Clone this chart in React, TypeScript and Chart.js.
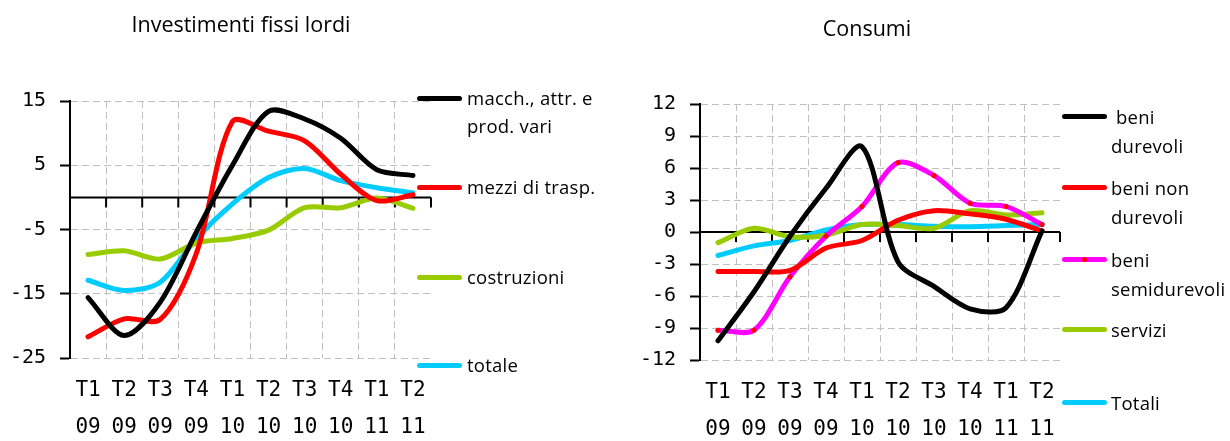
import React, { useEffect, useRef } from 'react';
import { Chart, registerables } from 'chart.js';

Chart.register(...registerables);

// ---------- data ----------
const quarters = ['T1', 'T2', 'T3', 'T4', 'T1', 'T2', 'T3', 'T4', 'T1', 'T2'];
const years = ['09', '09', '09', '09', '10', '10', '10', '10', '11', '11'];

// Investimenti fissi lordi
const invMacchinari = [-15.6, -21.5, -16.3, -5.4, 5.0, 13.4, 12.2, 9.2, 4.3, 3.4];
const invMezziTrasp = [-21.7, -18.9, -19.0, -8.7, 11.8, 10.3, 8.8, 3.6, -0.5, 0.4];
const invCostruzioni = [-8.9, -8.3, -9.6, -7.1, -6.4, -5.1, -1.6, -1.6, -0.1, -1.7];
const invTotale = [-12.9, -14.5, -13.2, -6.4, -1.0, 3.1, 4.5, 2.6, 1.5, 0.7];
const invLabels = [['macch., attr. e', 'prod. vari'], ['mezzi di trasp.'], ['costruzioni'], ['totale']];
const invColors = ['#000000', '#ff0000', '#99cc00', '#00ccff'];
const invMin = -25, invMax = 15, invStep = 10;

// Consumi
const conDurevoli = [-10.2, -5.6, -0.4, 4.1, 8.0, -2.8, -5.1, -7.2, -7.1, 0.1];
const conNonDurevoli = [-3.7, -3.7, -3.6, -1.5, -0.8, 1.1, 2.0, 1.7, 1.2, 0.1];
const conSemidurevoli = [-9.2, -9.2, -4.2, -0.4, 2.4, 6.5, 5.3, 2.7, 2.4, 0.7];
const conServizi = [-1.0, 0.35, -0.45, -0.3, 0.7, 0.6, 0.35, 2.0, 1.6, 1.8];
const conTotali = [-2.2, -1.3, -0.8, 0.2, 0.7, 0.7, 0.55, 0.5, 0.6, 0.7];
const conLabels = [[' beni', 'durevoli'], ['beni non', 'durevoli'], ['beni', 'semidurevoli'], ['servizi'], ['Totali']];
const conColors = ['#000000', '#ff0000', '#ff00ff', '#99cc00', '#00ccff'];
const conMin = -12, conMax = 12, conStep = 3;

// ---------- styling ----------
const GRID = '#c0c0c0';
const MONO = '"DejaVu Sans Mono", monospace';
const SANS = '"Open Sans", "DejaVu Sans", sans-serif';

const zeroAxisPlugin = {
  id: 'zeroAxis',
  beforeDatasetsDraw(chart: any) {
    const { ctx, chartArea, scales } = chart;
    const y = scales.y.getPixelForValue(0);
    const xs = scales.x;
    const n = xs.getLabels().length;
    ctx.save();
    ctx.strokeStyle = '#000';
    ctx.lineWidth = 2;
    ctx.beginPath();
    ctx.moveTo(chartArea.left, y);
    ctx.lineTo(chartArea.right, y);
    for (let i = 0; i < n; i++) {
      const x = xs.getPixelForValue(i + 0.5);
      ctx.moveTo(x, y);
      ctx.lineTo(x, y + 10);
    }
    ctx.stroke();
    ctx.restore();
  },
};

function buildConfig(opts: {
  series: number[][];
  colors: string[];
  names: string[][];
  min: number;
  max: number;
  step: number;
  yWidth: number;
  xHeight: number;
  padTop: number;
  padRight: number;
  markerIndex?: number;
}) {
  const labels = quarters.map((q, i) => [q, years[i]]);
  const n = labels.length;
  return {
    type: 'line',
    data: {
      labels,
      datasets: opts.series.map((data, i) => ({
        label: opts.names[i].join(' ').trim(),
        data,
        borderColor: opts.colors[i],
        backgroundColor: opts.colors[i],
        borderWidth: 5,
        tension: 0.3,
        fill: false,
        borderCapStyle: 'round',
        borderJoinStyle: 'round',
        pointRadius: i === opts.markerIndex ? 2.5 : 0,
        pointBackgroundColor: '#ff0000',
        pointBorderWidth: 0,
      })),
    },
    options: {
      responsive: false,
      animation: false,
      layout: { padding: { top: opts.padTop, right: opts.padRight, left: 0, bottom: 0 } },
      plugins: { legend: { display: false }, tooltip: { enabled: false }, title: { display: false } },
      scales: {
        x: {
          type: 'category',
          offset: true,
          grid: {
            offset: true,
            drawTicks: false,
            color: (c: any) => (c.index === undefined || c.index === 0 || c.index >= n ? 'rgba(0,0,0,0)' : GRID),
            lineWidth: 1,
          },
          border: { display: false, dash: [7, 4] },
          ticks: {
            color: '#000',
            font: { family: MONO, size: 21, lineHeight: '37px' },
            padding: 14,
            maxRotation: 0,
            autoSkip: false,
          },
          afterFit: (s: any) => {
            s.height = opts.xHeight;
          },
        },
        y: {
          min: opts.min,
          max: opts.max,
          grid: {
            drawTicks: true,
            tickLength: 10,
            tickColor: '#000',
            tickWidth: 2,
            tickBorderDash: [],
            color: (c: any) => (c.tick && c.tick.value === 0 ? 'rgba(0,0,0,0)' : GRID),
            lineWidth: 1,
          },
          border: { display: true, color: '#000', width: 2, dash: [7, 4] },
          ticks: {
            stepSize: opts.step,
            color: '#000',
            font: { family: MONO, size: 20 },
            padding: 14,
          },
          afterFit: (s: any) => {
            s.width = opts.yWidth;
          },
        },
      },
    },
    plugins: [zeroAxisPlugin],
  } as any;
}

function ChartCanvas({ config, left }: { config: any; left: number }) {
  const ref = useRef<HTMLCanvasElement | null>(null);
  useEffect(() => {
    if (!ref.current) return;
    const chart = new Chart(ref.current, config);
    return () => chart.destroy();
  }, [config]);
  return (
    <canvas
      ref={ref}
      width={615}
      height={441}
      style={{ position: 'absolute', left, top: 0, width: 615, height: 441 }}
    />
  );
}

function Legend({
  names,
  colors,
  ys,
  lineX,
  textX,
  lineHeight,
  markerIndex,
}: {
  names: string[][];
  colors: string[];
  ys: number[];
  lineX: number;
  textX: number;
  lineHeight: number;
  markerIndex?: number;
}) {
  return (
    <>
      {names.map((lines, i) => (
        <React.Fragment key={i}>
          <div
            style={{
              position: 'absolute',
              left: lineX,
              top: ys[i] - 2.5,
              width: 45,
              height: 5,
              borderRadius: 2.5,
              background: colors[i],
            }}
          />
          {i === markerIndex && (
            <div
              style={{
                position: 'absolute',
                left: lineX + 20,
                top: ys[i] - 2.5,
                width: 5,
                height: 5,
                borderRadius: 2.5,
                background: '#ff0000',
              }}
            />
          )}
          <div
            style={{
              position: 'absolute',
              left: textX,
              top: ys[i] - lineHeight / 2,
              font: `18.5px ${SANS}`,
              lineHeight: `${lineHeight}px`,
              color: '#000',
              whiteSpace: 'pre',
              letterSpacing: 0.25,
            }}
          >
            {lines.map((l, k) => (
              <div key={k}>{l}</div>
            ))}
          </div>
        </React.Fragment>
      ))}
    </>
  );
}

const invConfig = buildConfig({
  series: [invMacchinari, invMezziTrasp, invCostruzioni, invTotale],
  colors: invColors,
  names: invLabels,
  min: invMin,
  max: invMax,
  step: invStep,
  yWidth: 70,
  xHeight: 83,
  padTop: 101,
  padRight: 184,
});

const conConfig = buildConfig({
  series: [conDurevoli, conNonDurevoli, conSemidurevoli, conServizi, conTotali],
  colors: conColors,
  names: conLabels,
  min: conMin,
  max: conMax,
  step: conStep,
  yWidth: 85,
  xHeight: 81,
  padTop: 104,
  padRight: 170,
  markerIndex: 2,
});

export default function App() {
  return (
    <div
      style={{
        position: 'absolute',
        left: 0,
        top: 0,
        width: 1230,
        height: 441,
        background: '#fff',
        overflow: 'hidden',
      }}
    >
      <ChartCanvas config={invConfig} left={0} />
      <ChartCanvas config={conConfig} left={615} />
      <div
        style={{
          position: 'absolute',
          left: 41,
          width: 400,
          top: 9,
          textAlign: 'center',
          font: `21.5px ${SANS}`,
          lineHeight: '30px',
          color: '#000',
        }}
      >
        Investimenti fissi lordi
      </div>
      <div
        style={{
          position: 'absolute',
          left: 667,
          width: 400,
          top: 13,
          textAlign: 'center',
          font: `21.5px ${SANS}`,
          lineHeight: '30px',
          color: '#000',
        }}
      >
        Consumi
      </div>
      <Legend
        names={invLabels}
        colors={invColors}
        ys={[98, 187, 277, 365]}
        lineX={417}
        textX={467}
        lineHeight={28}
      />
      <Legend
        names={conLabels}
        colors={conColors}
        ys={[116, 187, 259, 329, 402]}
        lineX={1062}
        textX={1111}
        lineHeight={29}
        markerIndex={2}
      />
    </div>
  );
}
